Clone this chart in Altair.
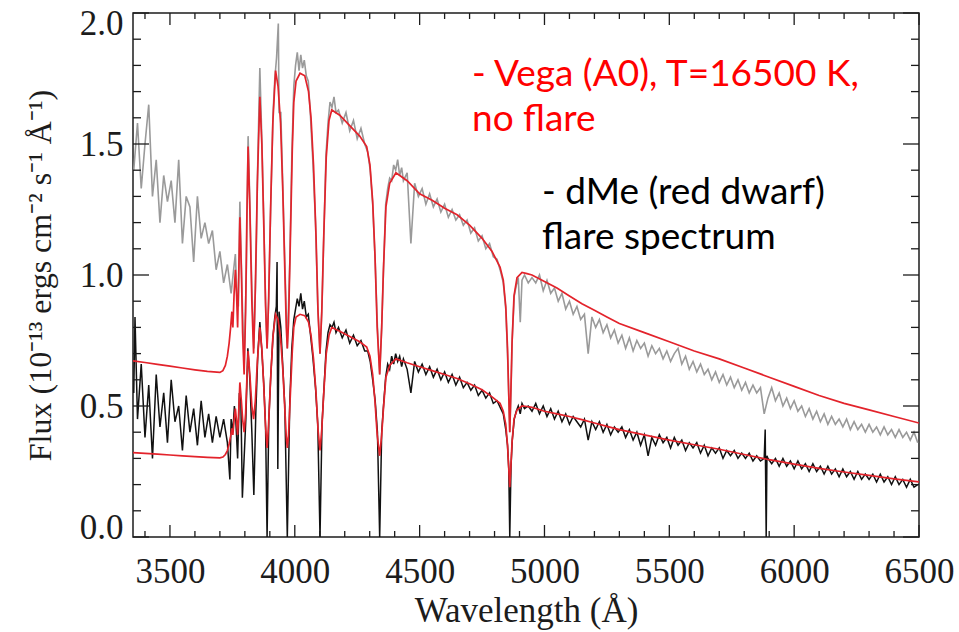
import altair as alt
import pandas as pd

# ---------------- data ----------------
# upper smooth model (Vega A0 scaled), red
VEGA_HI_WAVE = [3352, 3400, 3450, 3500, 3550, 3600, 3650, 3700, 3712, 3722, 3730, 3737, 3743, 3748, 3752, 3757,
                3762, 3767, 3771, 3775, 3780, 3786, 3791, 3797, 3803, 3808, 3813, 3820, 3828, 3835, 3842, 3850,
                3860, 3868, 3876, 3883, 3889, 3895, 3903, 3912, 3923, 3933, 3943, 3952, 3960, 3966, 3970, 3975,
                3982, 3990, 3996, 4005, 4021, 4040, 4055, 4065, 4075, 4085, 4093, 4101, 4108, 4116, 4126, 4137,
                4148, 4180, 4220, 4260, 4288, 4301, 4312, 4321, 4330, 4340, 4348, 4355, 4365, 4380, 4405, 4450,
                4500, 4550, 4600, 4650, 4700, 4750, 4790, 4822, 4835, 4845, 4852, 4857, 4861, 4865, 4870, 4878,
                4890, 4910, 4930, 4950, 5000, 5050, 5100, 5150, 5200, 5250, 5300, 5400, 5500, 5600, 5700, 5800,
                5900, 6000, 6100, 6200, 6300, 6400, 6500]
VEGA_HI_FLUX = [0.672, 0.666, 0.659, 0.652, 0.645, 0.638, 0.632, 0.628, 0.635, 0.655, 0.690, 0.740, 0.800, 0.860, 0.800, 0.930,
                1.020, 0.920, 0.800, 0.980, 1.220, 1.020, 0.780, 0.620, 0.860, 1.220, 1.490, 1.250, 0.900, 0.700, 0.950, 1.350,
                1.680, 1.500, 1.180, 0.880, 0.720, 0.900, 1.250, 1.580, 1.780, 1.720, 1.580, 1.320, 1.020, 0.800, 0.720, 0.820,
                1.120, 1.480, 1.660, 1.740, 1.770, 1.760, 1.700, 1.600, 1.420, 1.150, 0.860, 0.700, 0.860, 1.150, 1.450, 1.590,
                1.630, 1.610, 1.570, 1.530, 1.490, 1.420, 1.280, 1.080, 0.800, 0.620, 0.800, 1.020, 1.260, 1.350, 1.390, 1.360,
                1.310, 1.285, 1.255, 1.230, 1.190, 1.140, 1.090, 1.030, 0.980, 0.880, 0.720, 0.540, 0.400, 0.540, 0.740, 0.920,
                0.990, 1.010, 1.005, 1.000, 0.975, 0.950, 0.920, 0.890, 0.865, 0.840, 0.815, 0.780, 0.745, 0.710, 0.680, 0.645,
                0.610, 0.575, 0.540, 0.510, 0.485, 0.460, 0.435]

# lower smooth model, red
VEGA_LO_WAVE = VEGA_HI_WAVE
VEGA_LO_FLUX = [0.322, 0.319, 0.316, 0.313, 0.310, 0.307, 0.304, 0.302, 0.305, 0.315, 0.330, 0.355, 0.385, 0.415, 0.390, 0.450,
                0.490, 0.440, 0.390, 0.470, 0.590, 0.520, 0.450, 0.400, 0.470, 0.600, 0.710, 0.620, 0.500, 0.450, 0.520, 0.670,
                0.800, 0.720, 0.570, 0.420, 0.340, 0.430, 0.600, 0.760, 0.850, 0.830, 0.760, 0.640, 0.490, 0.380, 0.340, 0.390,
                0.540, 0.710, 0.800, 0.840, 0.850, 0.845, 0.820, 0.770, 0.680, 0.550, 0.410, 0.330, 0.410, 0.550, 0.700, 0.770,
                0.800, 0.785, 0.765, 0.745, 0.725, 0.690, 0.620, 0.520, 0.390, 0.310, 0.390, 0.490, 0.610, 0.655, 0.680, 0.665,
                0.650, 0.635, 0.620, 0.605, 0.585, 0.562, 0.535, 0.510, 0.480, 0.430, 0.350, 0.260, 0.190, 0.260, 0.360, 0.450,
                0.485, 0.500, 0.498, 0.495, 0.480, 0.470, 0.460, 0.448, 0.435, 0.422, 0.410, 0.390, 0.370, 0.352, 0.335, 0.315,
                0.295, 0.278, 0.262, 0.248, 0.235, 0.222, 0.210]

# noisy spectra: blue part (irregular sampling) ...
GRAY_HEAD_WAVE = [3355, 3370, 3385, 3400, 3415, 3430, 3445, 3460, 3475, 3490,
                  3505, 3520, 3535, 3550, 3565, 3580, 3595, 3610, 3625, 3640,
                  3655, 3670, 3685, 3700, 3715, 3730, 3745, 3755, 3762, 3768,
                  3774, 3780, 3787, 3797, 3806, 3813, 3820, 3828, 3836, 3845,
                  3852, 3860, 3868, 3876, 3883, 3889, 3896, 3904, 3913, 3920,
                  3927, 3934, 3937, 3944, 3952, 3960, 3970, 3980, 3988, 3996,
                  4003, 4010, 4017, 4024, 4031, 4038, 4046, 4054, 4062, 4072,
                  4083, 4092, 4101, 4109, 4117, 4125, 4133, 4141, 4149, 4157,
                  4165, 4175, 4190, 4205, 4220, 4235, 4250, 4265, 4280, 4292,
                  4302, 4312, 4322, 4331, 4340, 4348, 4356, 4364, 4372, 4380,
                  4388, 4396, 4404, 4412, 4420, 4428, 4435, 4450, 4465, 4480,
                  4495, 4510, 4525, 4540, 4555, 4570, 4585, 4600, 4615, 4630,
                  4645, 4660, 4675, 4690, 4705, 4720, 4735, 4750, 4765, 4780,
                  4795, 4810, 4825, 4835, 4845, 4852, 4857, 4861, 4866, 4871,
                  4879, 4887, 4895, 4903, 4910, 4920, 4935, 4950]
GRAY_HEAD_FLUX = [1.40, 1.58, 1.33, 1.50, 1.65, 1.30, 1.44, 1.20, 1.38, 1.28,
                  1.36, 1.20, 1.44, 1.12, 1.30, 1.26, 1.05, 1.30, 1.14, 1.20,
                  1.12, 1.17, 1.02, 1.09, 0.97, 1.04, 0.93, 1.02, 1.08, 0.92,
                  0.88, 1.28, 1.00, 0.64, 1.02, 1.53, 1.28, 0.95, 0.72, 1.05,
                  1.45, 1.79, 1.52, 1.20, 0.90, 0.72, 0.92, 1.28, 1.62, 1.75,
                  1.83, 1.96, 1.62, 1.62, 1.34, 1.05, 0.72, 1.05, 1.45, 1.72,
                  1.80, 1.85, 1.78, 1.84, 1.79, 1.82, 1.76, 1.74, 1.62, 1.44,
                  1.20, 0.88, 0.70, 0.88, 1.18, 1.46, 1.58, 1.66, 1.64, 1.68,
                  1.62, 1.63, 1.58, 1.62, 1.55, 1.59, 1.52, 1.56, 1.50, 1.47,
                  1.40, 1.27, 1.05, 0.80, 0.62, 0.80, 1.04, 1.27, 1.33, 1.37,
                  1.36, 1.42, 1.40, 1.44, 1.38, 1.41, 1.36, 1.39, 1.12, 1.35,
                  1.30, 1.33, 1.27, 1.31, 1.26, 1.29, 1.24, 1.27, 1.22, 1.25,
                  1.21, 1.23, 1.19, 1.21, 1.16, 1.18, 1.13, 1.15, 1.10, 1.12,
                  1.07, 1.06, 1.01, 0.97, 0.87, 0.70, 0.54, 0.40, 0.56, 0.76,
                  0.92, 0.96, 0.99, 0.82, 0.98, 1.00, 0.97, 0.99]

BLACK_HEAD_WAVE = [3355, 3360, 3370, 3385, 3400, 3415, 3430, 3445, 3460, 3475,
                   3490, 3505, 3520, 3535, 3550, 3565, 3580, 3595, 3610, 3625,
                   3640, 3655, 3670, 3685, 3700, 3715, 3730, 3740, 3745, 3752,
                   3758, 3764, 3771, 3778, 3784, 3790, 3797, 3804, 3812, 3820,
                   3828, 3836, 3844, 3852, 3860, 3868, 3876, 3883, 3889, 3896,
                   3904, 3913, 3920, 3926, 3929, 3932, 3937, 3944, 3952, 3960,
                   3970, 3980, 3988, 3996, 4003, 4010, 4017, 4024, 4031, 4038,
                   4046, 4054, 4062, 4072, 4083, 4092, 4101, 4109, 4117, 4125,
                   4133, 4141, 4149, 4157, 4165, 4175, 4190, 4205, 4220, 4235,
                   4250, 4265, 4280, 4292, 4302, 4312, 4322, 4331, 4340, 4348,
                   4356, 4364, 4372, 4380, 4388, 4396, 4404, 4412, 4420, 4428,
                   4435, 4450, 4465, 4480, 4495, 4510, 4525, 4540, 4555, 4570,
                   4585, 4600, 4615, 4630, 4645, 4660, 4675, 4690, 4705, 4720,
                   4735, 4750, 4765, 4780, 4795, 4810, 4825, 4835, 4845, 4852,
                   4857, 4861, 4866, 4871, 4879, 4887, 4895, 4903, 4910, 4920,
                   4935, 4950]
BLACK_HEAD_FLUX = [0.55, 0.84, 0.45, 0.66, 0.38, 0.58, 0.30, 0.62, 0.42, 0.55,
                   0.36, 0.60, 0.44, 0.50, 0.33, 0.54, 0.40, 0.49, 0.35, 0.52,
                   0.38, 0.47, 0.36, 0.46, 0.38, 0.45, 0.36, 0.22, 0.45, 0.40,
                   0.50, 0.44, 0.30, 0.55, 0.52, 0.15, 0.30, 0.45, 0.72, 0.60,
                   0.40, 0.16, 0.48, 0.70, 0.82, 0.71, 0.58, 0.42, 0.00, 0.45,
                   0.62, 0.77, 0.84, 0.88, 1.05, 0.26, 0.86, 0.80, 0.65, 0.50,
                   0.00, 0.52, 0.72, 0.83, 0.87, 0.91, 0.88, 0.93, 0.87, 0.90,
                   0.84, 0.85, 0.78, 0.69, 0.57, 0.43, 0.00, 0.43, 0.57, 0.71,
                   0.78, 0.81, 0.80, 0.82, 0.78, 0.80, 0.76, 0.79, 0.74, 0.77,
                   0.73, 0.75, 0.71, 0.71, 0.67, 0.60, 0.52, 0.40, 0.00, 0.40,
                   0.51, 0.61, 0.66, 0.64, 0.69, 0.66, 0.70, 0.67, 0.69, 0.65,
                   0.68, 0.64, 0.55, 0.67, 0.63, 0.66, 0.62, 0.65, 0.61, 0.64,
                   0.60, 0.63, 0.59, 0.62, 0.58, 0.61, 0.57, 0.59, 0.56, 0.58,
                   0.54, 0.56, 0.53, 0.55, 0.51, 0.52, 0.49, 0.47, 0.41, 0.35,
                   0.26, 0.00, 0.27, 0.37, 0.45, 0.48, 0.50, 0.47, 0.51, 0.49,
                   0.50, 0.48]

# ... and red part (regular sampling)
TAIL_WAVE = [4965, 4980, 4995, 5010, 5025, 5040, 5055, 5070, 5085, 5100,
             5115, 5130, 5145, 5160, 5175, 5190, 5205, 5220, 5235, 5250,
             5265, 5280, 5295, 5310, 5325, 5340, 5355, 5370, 5385, 5400,
             5415, 5430, 5445, 5460, 5475, 5490, 5505, 5520, 5535, 5550,
             5565, 5580, 5595, 5610, 5625, 5640, 5655, 5670, 5685, 5700,
             5715, 5730, 5745, 5760, 5775, 5790, 5805, 5820, 5835, 5850,
             5865, 5880, 5895, 5910, 5925, 5940, 5955, 5970, 5985, 6000,
             6015, 6030, 6045, 6060, 6075, 6090, 6105, 6120, 6135, 6150,
             6165, 6180, 6195, 6210, 6225, 6240, 6255, 6270, 6285, 6300,
             6315, 6330, 6345, 6360, 6375, 6390, 6405, 6420, 6435, 6450,
             6465, 6480, 6495]
GRAY_TAIL_FLUX = [0.97, 1.00, 0.94, 0.98, 0.93, 0.95, 0.90, 0.93, 0.87, 0.90,
                  0.85, 0.88, 0.83, 0.85, 0.70, 0.84, 0.80, 0.83, 0.78, 0.81,
                  0.76, 0.79, 0.74, 0.77, 0.72, 0.76, 0.71, 0.75, 0.72, 0.74,
                  0.69, 0.73, 0.70, 0.72, 0.68, 0.71, 0.67, 0.70, 0.72, 0.66,
                  0.69, 0.64, 0.67, 0.63, 0.66, 0.62, 0.64, 0.60, 0.63, 0.59,
                  0.62, 0.58, 0.61, 0.57, 0.60, 0.56, 0.59, 0.55, 0.58, 0.55,
                  0.57, 0.47, 0.53, 0.57, 0.52, 0.55, 0.50, 0.53, 0.49, 0.52,
                  0.48, 0.50, 0.46, 0.49, 0.45, 0.48, 0.44, 0.47, 0.43, 0.46,
                  0.43, 0.45, 0.42, 0.45, 0.41, 0.44, 0.41, 0.43, 0.40, 0.43,
                  0.40, 0.42, 0.39, 0.42, 0.39, 0.41, 0.38, 0.41, 0.38, 0.40,
                  0.37, 0.40, 0.36]
BLACK_TAIL_FLUX = [0.51, 0.47, 0.50, 0.46, 0.49, 0.45, 0.48, 0.44, 0.47, 0.43,
                   0.46, 0.44, 0.42, 0.45, 0.37, 0.44, 0.41, 0.44, 0.40, 0.43,
                   0.39, 0.42, 0.40, 0.42, 0.38, 0.41, 0.37, 0.40, 0.35, 0.39,
                   0.31, 0.38, 0.35, 0.39, 0.36, 0.38, 0.34, 0.38, 0.35, 0.37,
                   0.33, 0.36, 0.34, 0.36, 0.32, 0.35, 0.31, 0.34, 0.32, 0.34,
                   0.30, 0.33, 0.31, 0.33, 0.30, 0.32, 0.30, 0.32, 0.29, 0.31,
                   0.29, 0.30, 0.30, 0.28, 0.30, 0.27, 0.30, 0.27, 0.29, 0.26,
                   0.29, 0.26, 0.28, 0.25, 0.28, 0.25, 0.27, 0.24, 0.27, 0.24,
                   0.26, 0.23, 0.26, 0.23, 0.25, 0.22, 0.25, 0.22, 0.24, 0.22,
                   0.24, 0.21, 0.24, 0.21, 0.23, 0.20, 0.23, 0.20, 0.22, 0.19,
                   0.22, 0.19, 0.20]
# Na D masked pixels in the black spectrum
BLACK_NAD_WAVE = [5884, 5888, 5891]
BLACK_NAD_FLUX = [0.41, 0.00, 0.31]

X_MAJOR = [3500, 4000, 4500, 5000, 5500, 6000, 6500]
X_MINOR = [3400, 3600, 3700, 3800, 3900, 4100, 4200, 4300, 4400, 4600, 4700, 4800, 4900,
           5100, 5200, 5300, 5400, 5600, 5700, 5800, 5900, 6100, 6200, 6300, 6400]
Y_MAJOR = [0.0, 0.5, 1.0, 1.5, 2.0]
Y_MINOR = [0.1, 0.2, 0.3, 0.4, 0.6, 0.7, 0.8, 0.9, 1.1, 1.2, 1.3, 1.4, 1.6, 1.7, 1.8, 1.9]

RED_NOTE = ["- Vega (A0), T=16500 K,", "no flare"]
BLACK_NOTE = ["- dMe (red dwarf)", "flare spectrum"]

# ---------------- chart ----------------
W, H = 786, 524
INK = "#1c1c1c"
SERIF = "Liberation Serif"

xs = alt.Scale(domain=[3352, 6500], nice=False, zero=False)
ys = alt.Scale(domain=[0.0, 2.0], nice=False, zero=False)

# end labels of the y axis sit a little inside the frame, as in the reference
y_label_offset = {
    "condition": [
        {"test": "datum.value < 0.25", "value": -10},
        {"test": "datum.value > 1.75", "value": 10},
    ],
    "value": 0,
}

xaxis = alt.Axis(values=X_MAJOR, format="d", title="Wavelength (Å)", grid=False, ticks=False, tickSize=0,
                 domain=False, labelFont=SERIF, labelFontSize=35, labelColor=INK, labelPadding=17,
                 labelFlush=False, labelOverlap=False, titleFont=SERIF, titleFontSize=35,
                 titleFontWeight="normal", titleColor=INK, titlePadding=4)
yaxis = alt.Axis(values=Y_MAJOR, format=".1f", title="Flux (10⁻¹³ ergs cm⁻² s⁻¹ Å⁻¹)", grid=False,
                 ticks=False, tickSize=0, domain=False, labelFont=SERIF, labelFontSize=35, labelColor=INK,
                 labelPadding=10, labelFlush=False, labelOverlap=False, labelOffset=y_label_offset,
                 titleFont=SERIF, titleFontSize=32, titleFontWeight="normal", titleColor=INK,
                 titlePadding=22)


def frame_df(wave, flux):
    df = pd.DataFrame({"w": wave, "f": flux})
    return df.sort_values("w").reset_index(drop=True)


def spec(df, color, width):
    return alt.Chart(df).mark_line(color=color, strokeWidth=width, clip=True).encode(
        x=alt.X("w:Q", scale=xs, axis=xaxis),
        y=alt.Y("f:Q", scale=ys, axis=yaxis),
    )


gray_df = frame_df(GRAY_HEAD_WAVE + TAIL_WAVE, GRAY_HEAD_FLUX + GRAY_TAIL_FLUX)
black_df = frame_df(BLACK_HEAD_WAVE + TAIL_WAVE + BLACK_NAD_WAVE,
                    BLACK_HEAD_FLUX + BLACK_TAIL_FLUX + BLACK_NAD_FLUX)
hi_df = frame_df(VEGA_HI_WAVE, VEGA_HI_FLUX)
lo_df = frame_df(VEGA_LO_WAVE, VEGA_LO_FLUX)

layers = [
    spec(gray_df, "#9a9a9a", 1.6),
    spec(black_df, "#111111", 1.5),
    spec(hi_df, "#e3232b", 1.7),
    spec(lo_df, "#e3232b", 1.7),
]


def xticks(vals, length, top):
    y0, y1 = (0, length) if top else (H, H - length)
    return alt.Chart(pd.DataFrame({"w": vals})).mark_rule(color=INK, strokeWidth=1.3).encode(
        x=alt.X("w:Q", scale=xs, axis=xaxis), y=alt.value(y0), y2=alt.value(y1))


def yticks(vals, length, right):
    x0, x1 = (W, W - length) if right else (0, length)
    return alt.Chart(pd.DataFrame({"f": vals})).mark_rule(color=INK, strokeWidth=1.3).encode(
        y=alt.Y("f:Q", scale=ys, axis=yaxis), x=alt.value(x0), x2=alt.value(x1))


layers += [
    xticks(X_MAJOR, 12, False), xticks(X_MINOR, 6, False),
    xticks(X_MAJOR, 12, True), xticks(X_MINOR, 6, True),
    yticks(Y_MAJOR, 16, False), yticks(Y_MINOR, 8, False),
    yticks(Y_MAJOR, 16, True), yticks(Y_MINOR, 8, True),
]


def note(lines, color, x, y0, step):
    out = []
    for i, t in enumerate(lines):
        out.append(alt.Chart(pd.DataFrame({"t": [t]})).mark_text(
            font="Lato", fontSize=37, color=color, align="left", baseline="middle").encode(
            x=alt.value(x), y=alt.value(y0 + i * step), text="t:N"))
    return out


layers += note(RED_NOTE, "#ff0000", 339, 62, 45)
layers += note(BLACK_NOTE, "#000000", 409, 180, 45)

chart = alt.layer(*layers).properties(
    width=W, height=H,
    autosize=alt.AutoSizeParams(type="none"),
    padding={"left": 133, "top": 13, "right": 40, "bottom": 95},
).configure(background="white").configure_view(stroke=INK, strokeWidth=1.5)

chart.save("out.html", embed_options={"renderer": "svg", "actions": False})
